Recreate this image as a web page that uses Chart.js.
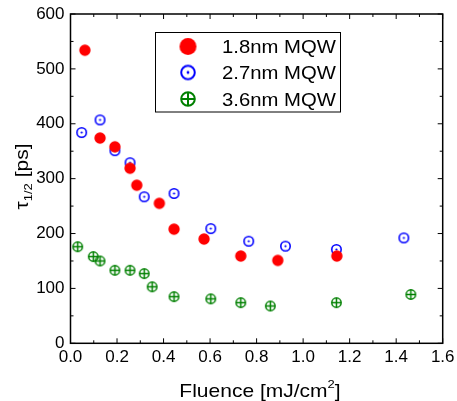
<!DOCTYPE html>
<html><head><meta charset="utf-8">
<script src="https://cdn.jsdelivr.net/npm/chart.js@4/dist/chart.umd.min.js"></script>
<style>html,body{margin:0;padding:0;background:#fff}</style>
</head><body>
<canvas id="c" width="457" height="401"></canvas>
<script>
// ---- data ----
const seriesLabels = ['1.8nm MQW', '2.7nm MQW', '3.6nm MQW'];
const fluence18 = [0.062, 0.127, 0.191, 0.256, 0.285, 0.382, 0.445, 0.574, 0.732, 0.891, 1.145];
const tau18     = [534,   374,   358,   319,   288,   255,   208,   190,   159,   151,   159];
const fluence27 = [0.048, 0.127, 0.191, 0.256, 0.317, 0.445, 0.603, 0.766, 0.924, 1.143, 1.433];
const tau27     = [384,   407,   351,   329,   267,   273,   209,   186,   177,   171,   192];
const fluence36 = [0.031, 0.098, 0.127, 0.191, 0.256, 0.317, 0.351, 0.445, 0.603, 0.732, 0.859, 1.143, 1.463];
const tau36     = [176,   158,   150,   133,   133,   127,   103,   85,    81,    74,    68,    74,    89];
const xTickValues = [0, 0.2, 0.4, 0.6, 0.8, 1.0, 1.2, 1.4, 1.6];
const yTickValues = [0, 100, 200, 300, 400, 500, 600];
const xTitle = 'Fluence [mJ/cm';
const xTitleSup = '2';
const yTitleMain = 'τ';
const yTitleSub = '1/2';
const yTitleRest = ' [ps]';

const RED = '#ff0000', BLUE = '#0000ff', GREEN = '#008000';
const FONT = '"Liberation Sans", Arial, Helvetica, sans-serif';
const SQ = 0.88; // vertical squash of text glyphs

function marker(kind, r, lw) {
  const s = Math.ceil(2 * r + lw + 4);
  const cv = document.createElement('canvas');
  cv.width = s; cv.height = s;
  const g = cv.getContext('2d');
  const c = s / 2;
  if (kind === 'filled') {
    g.fillStyle = RED; g.beginPath(); g.arc(c, c, r, 0, 2 * Math.PI); g.fill();
  } else if (kind === 'dot') {
    g.strokeStyle = BLUE; g.lineWidth = lw; g.beginPath(); g.arc(c, c, r, 0, 2 * Math.PI); g.stroke();
    g.fillStyle = BLUE; g.beginPath(); g.arc(c, c, lw * 0.7, 0, 2 * Math.PI); g.fill();
  } else {
    g.strokeStyle = GREEN; g.lineWidth = lw; g.beginPath(); g.arc(c, c, r, 0, 2 * Math.PI); g.stroke();
    g.beginPath(); g.moveTo(c - r, c); g.lineTo(c + r, c); g.moveTo(c, c - r); g.lineTo(c, c + r); g.stroke();
  }
  return cv;
}
const mRed = marker('filled', 5.7, 0), mBlue = marker('dot', 4.7, 1.6), mGreen = marker('cross', 4.7, 1.5);
const lRed = marker('filled', 8.5, 0), lBlue = marker('dot', 6.8, 2), lGreen = marker('cross', 6.8, 2);

const toPts = (xs, ys) => xs.map((x, i) => ({ x: x, y: ys[i] }));

// draws text with baseline at (x, y), vertically squashed
function txt(ctx, str, x, y, size) {
  ctx.save();
  ctx.translate(x, y);
  ctx.scale(1, SQ);
  ctx.font = size + 'px ' + FONT;
  ctx.textBaseline = 'alphabetic';
  ctx.textAlign = 'left';
  ctx.fillText(str, 0, 0);
  ctx.restore();
}
function tw(ctx, str, size) { ctx.font = size + 'px ' + FONT; return ctx.measureText(str).width; }

const frame = {
  id: 'frame',
  afterDraw(chart) {
    const { ctx, chartArea: a, scales } = chart;
    ctx.save();
    ctx.strokeStyle = '#000';
    ctx.fillStyle = '#000';
    ctx.lineWidth = 1.5;
    ctx.strokeRect(a.left, a.top, a.right - a.left, a.bottom - a.top);
    ctx.lineWidth = 1;
    ctx.beginPath();
    for (let i = 0; i <= 16; i++) {
      const px = scales.x.getPixelForValue(i * 0.1);
      const len = i % 2 === 0 ? 5 : 3;
      ctx.moveTo(px, a.bottom); ctx.lineTo(px, a.bottom - len);
      ctx.moveTo(px, a.top); ctx.lineTo(px, a.top + len);
    }
    for (let i = 0; i <= 12; i++) {
      const py = scales.y.getPixelForValue(i * 50);
      const len = i % 2 === 0 ? 5 : 3;
      ctx.moveTo(a.left, py); ctx.lineTo(a.left + len, py);
      ctx.moveTo(a.right, py); ctx.lineTo(a.right - len, py);
    }
    ctx.stroke();

    // legend
    ctx.lineWidth = 1;
    ctx.strokeRect(155.5, 32.5, 185, 79.5);
    const rows = [46.5, 72.5, 99];
    const ms = [lRed, lBlue, lGreen];
    rows.forEach((y, i) => {
      ctx.drawImage(ms[i], 188 - ms[i].width / 2, y - ms[i].height / 2);
      txt(ctx, seriesLabels[i], 222, y + 6.5, 20.3);
    });

    // x title
    const w1 = tw(ctx, xTitle, 21), w2 = tw(ctx, xTitleSup, 13), w3 = tw(ctx, ']', 21);
    const x0 = 260 - (w1 + w2 + w3) / 2;
    const by = 397;
    txt(ctx, xTitle, x0, by, 21);
    txt(ctx, xTitleSup, x0 + w1, by - 9, 13);
    txt(ctx, ']', x0 + w1 + w2, by, 21);

    // y title (rotated)
    ctx.save();
    ctx.translate(28, 0);
    ctx.rotate(-Math.PI / 2);
    const t1 = tw(ctx, yTitleMain, 21), t2 = tw(ctx, yTitleSub, 13), t3 = tw(ctx, yTitleRest, 21);
    const s = -176.5 - (t1 + t2 + t3) / 2;
    txt(ctx, yTitleMain, s, 0, 21);
    txt(ctx, yTitleSub, s + t1, 4, 13);
    txt(ctx, yTitleRest, s + t1 + t2, 0, 21);
    ctx.restore();
    ctx.restore();
  }
};

new Chart(document.getElementById('c'), {
  type: 'scatter',
  data: {
    datasets: [
      { label: seriesLabels[0], data: toPts(fluence18, tau18), pointStyle: mRed, pointRadius: 6, pointHoverRadius: 6 },
      { label: seriesLabels[1], data: toPts(fluence27, tau27), pointStyle: mBlue, pointRadius: 6, pointHoverRadius: 6 },
      { label: seriesLabels[2], data: toPts(fluence36, tau36), pointStyle: mGreen, pointRadius: 6, pointHoverRadius: 6 }
    ]
  },
  options: {
    responsive: false,
    animation: false,
    devicePixelRatio: 1,
    events: [],
    layout: { padding: { left: 0, right: 14.3, top: 14, bottom: 0 } },
    plugins: { legend: { display: false }, tooltip: { enabled: false } },
    scales: {
      x: {
        type: 'linear', min: 0, max: 1.6,
        afterBuildTicks: s => { s.ticks = xTickValues.map(v => ({ value: v })); },
        afterFit: s => { s.height = 57.7; s.paddingLeft = 0; s.paddingRight = 0; },
        ticks: { callback: v => v.toFixed(1), color: '#000', font: { size: 17, family: FONT }, padding: 4, maxRotation: 0, autoSkip: false },
        grid: { display: true, drawOnChartArea: false, drawTicks: false },
        border: { display: false }
      },
      y: {
        type: 'linear', min: 0, max: 600,
        afterBuildTicks: s => { s.ticks = yTickValues.map(v => ({ value: v })); },
        afterFit: s => { s.width = 70.5; s.paddingTop = 0; s.paddingBottom = 0; },
        ticks: { callback: v => String(v), color: '#000', font: { size: 17, family: FONT }, padding: 6 },
        grid: { display: true, drawOnChartArea: false, drawTicks: false },
        border: { display: false }
      }
    }
  },
  plugins: [frame]
});
</script>
</body></html>
